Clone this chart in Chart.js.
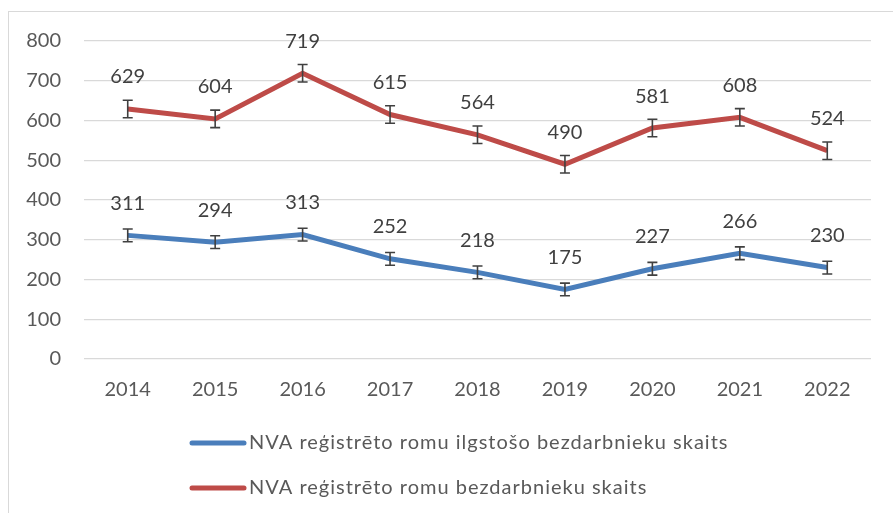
<!DOCTYPE html>
<html lang="lv">
<head>
  <meta charset="UTF-8" />
  <title>NVA reģistrēto romu bezdarbnieku skaits</title>
  <script src="https://cdn.jsdelivr.net/npm/chart.js"></script>
  <style>
    body {
      margin: 0;
      background: #ffffff;
      overflow: hidden;
    }
    .frame {
      position: absolute;
      left: 8px;
      top: 11px;
      width: 1000px;
      height: 1000px;
      border: 1px solid #d9d9d9;
    }
    canvas {
      position: absolute;
      left: 0;
      top: 0;
    }
  </style>
</head>
<body>
  <div class="frame"></div>
  <canvas id="chart" width="893" height="513"></canvas>

  <script>
    const years = ['2014', '2015', '2016', '2017', '2018', '2019', '2020', '2021', '2022'];
    const longTerm = [311, 294, 313, 252, 218, 175, 227, 266, 230];
    const total = [629, 604, 719, 615, 564, 490, 581, 608, 524];
    const longTermErr = 16;
    const totalErr = 22;
    const seriesNames = [
      'NVA reģistrēto romu ilgstošo bezdarbnieku skaits',
      'NVA reģistrēto romu bezdarbnieku skaits'
    ];

    const FONT = 'Lato, "Open Sans", sans-serif';
    const TEXT = '#595959';

    // error bars (same size for the whole series)
    const errorBars = {
      id: 'errorBars',
      afterDatasetsDraw(chart) {
        const ctx = chart.ctx;
        const y = chart.scales.y;
        ctx.save();
        ctx.strokeStyle = '#404040';
        ctx.lineWidth = 1.6;
        chart.data.datasets.forEach((ds, i) => {
          const meta = chart.getDatasetMeta(i);
          meta.data.forEach((pt, j) => {
            const top = y.getPixelForValue(ds.data[j] + ds.err);
            const bot = y.getPixelForValue(ds.data[j] - ds.err);
            ctx.beginPath();
            ctx.moveTo(pt.x, top); ctx.lineTo(pt.x, bot);
            ctx.moveTo(pt.x - 5, top); ctx.lineTo(pt.x + 5, top);
            ctx.moveTo(pt.x - 5, bot); ctx.lineTo(pt.x + 5, bot);
            ctx.stroke();
          });
        });
        ctx.restore();
      }
    };

    // value labels above the points
    const valueLabels = {
      id: 'valueLabels',
      afterDatasetsDraw(chart) {
        const ctx = chart.ctx;
        ctx.save();
        ctx.font = '20px ' + FONT;
        ctx.fillStyle = '#404040';
        ctx.textAlign = 'center';
        ctx.textBaseline = 'middle';
        chart.data.datasets.forEach((ds, i) => {
          chart.getDatasetMeta(i).data.forEach((pt, j) => {
            ctx.fillText(ds.data[j], pt.x, pt.y - 32);
          });
        });
        ctx.restore();
      }
    };

    // legend, two rows, left aligned like the original
    const bottomLegend = {
      id: 'bottomLegend',
      afterDraw(chart) {
        const ctx = chart.ctx;
        ctx.save();
        ctx.font = '20px ' + FONT;
        ctx.letterSpacing = '1px';
        ctx.textBaseline = 'middle';
        ctx.lineCap = 'round';
        chart.data.datasets.forEach((ds, i) => {
          const yy = 443 + i * 45;
          ctx.strokeStyle = ds.borderColor;
          ctx.lineWidth = 5;
          ctx.beginPath();
          ctx.moveTo(192, yy); ctx.lineTo(244, yy);
          ctx.stroke();
          ctx.fillStyle = TEXT;
          ctx.fillText(ds.label, 249, yy);
        });
        ctx.restore();
      }
    };

    new Chart(document.getElementById('chart'), {
      type: 'line',
      data: {
        labels: years,
        datasets: [
          {
            label: seriesNames[0],
            data: longTerm,
            err: longTermErr,
            borderColor: '#4a7ebb',
            borderWidth: 5,
            pointRadius: 0,
            tension: 0
          },
          {
            label: seriesNames[1],
            data: total,
            err: totalErr,
            borderColor: '#be4b48',
            borderWidth: 5,
            pointRadius: 0,
            tension: 0
          }
        ]
      },
      options: {
        responsive: false,
        animation: false,
        layout: { padding: { left: 0, right: 22, top: 41, bottom: 114 } },
        plugins: {
          legend: { display: false },
          tooltip: { enabled: false }
        },
        scales: {
          x: {
            offset: true,
            grid: { display: false },
            border: { display: false },
            ticks: { color: TEXT, font: { family: FONT, size: 20 }, padding: 11 },
            afterFit(scale) { scale.height = 40; }
          },
          y: {
            min: 0,
            max: 800,
            ticks: { stepSize: 100, color: TEXT, font: { family: FONT, size: 20 }, padding: 23 },
            grid: { color: '#d9d9d9', lineWidth: 1.3, drawTicks: false },
            border: { display: false },
            afterFit(scale) { scale.width = 84; }
          }
        }
      },
      plugins: [errorBars, valueLabels, bottomLegend]
    });
  </script>
</body>
</html>
